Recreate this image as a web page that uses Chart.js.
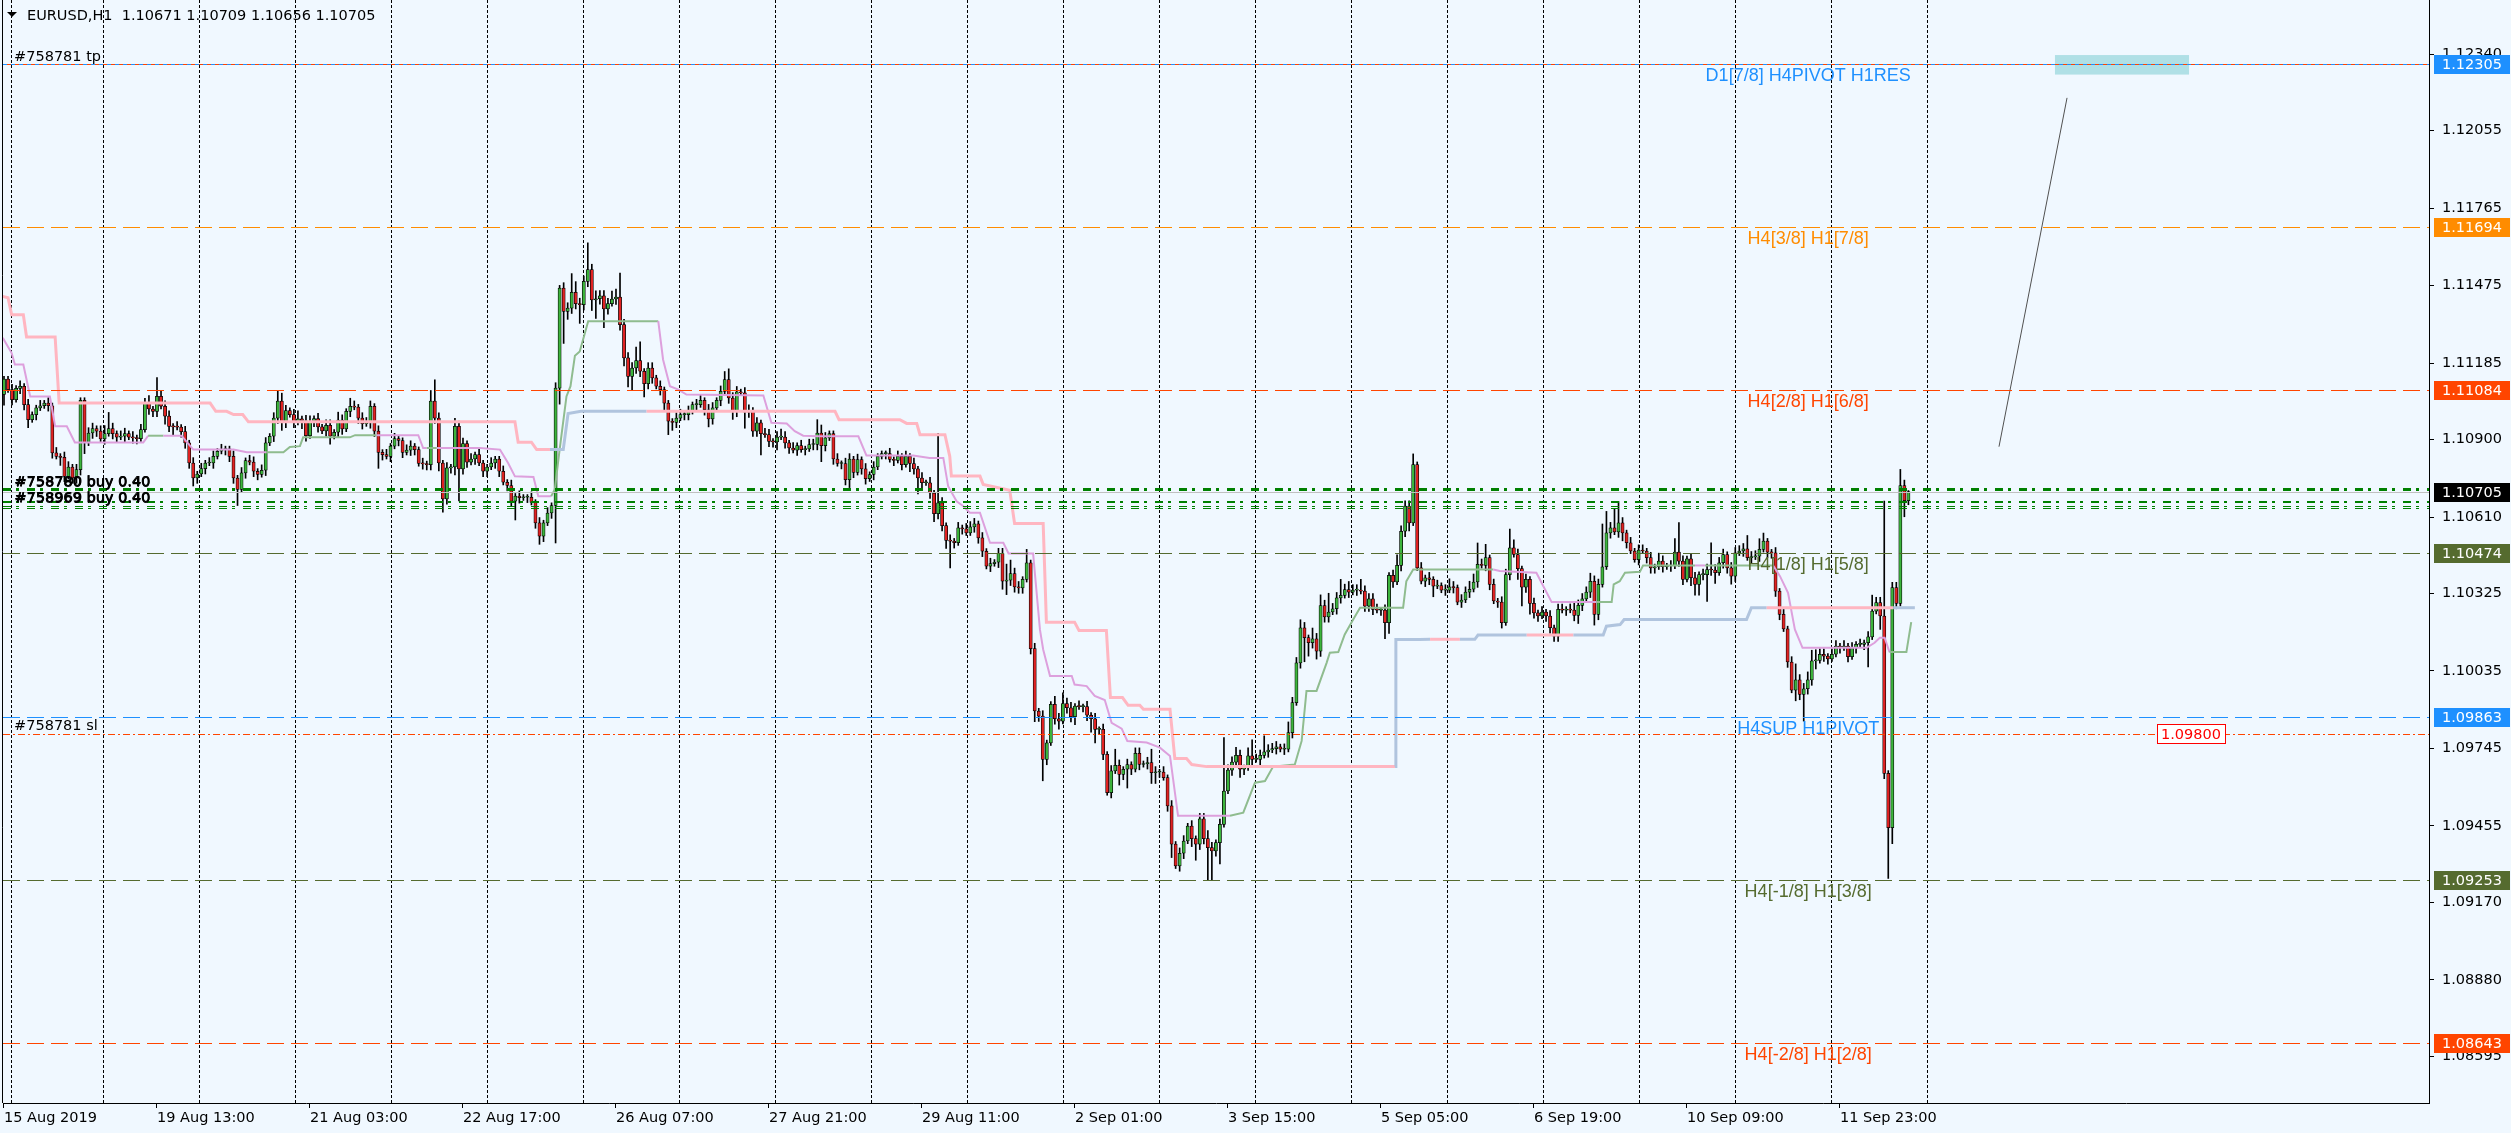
<!DOCTYPE html>
<html>
<head>
<meta charset="utf-8">
<title>EURUSD,H1</title>
<script src="https://cdn.jsdelivr.net/npm/chart.js@4.4.1/dist/chart.umd.min.js"></script>
<style>
  html, body { margin: 0; padding: 0; background: #F0F8FF; overflow: hidden; }
  #wrap { width: 2511px; height: 1133px; }
</style>
</head>
<body>
<div id="wrap"><canvas id="chart" width="2511" height="1133"></canvas></div>
<script>
// all candle values in pips above 1.0000 (1070.5 -> 1.10705), one bar per hour
const firstOpen = 1106.8;
const closes = [
  1112.6,1108.6,1104.9,1109.1,1109.9,1103.0,1097.4,1099.3,1101.8,1102.6,
  1103.6,1102.6,1085.0,1083.7,1083.3,1076.2,1079.7,1075.6,1078.7,1104.6,
  1088.7,1092.4,1094.1,1093.1,1090.2,1092.2,1094.1,1092.2,1090.9,1091.2,
  1092.2,1090.9,1090.6,1090.3,1093.7,1103.4,1101.4,1100.5,1106.1,1102.4,
  1098.7,1094.9,1094.7,1094.6,1092.9,1088.7,1081.2,1075.6,1077.1,1079.1,
  1081.2,1081.2,1083.7,1085.6,1086.2,1086.5,1083.7,1075.6,1071.3,1077.5,
  1082.1,1081.5,1078.1,1076.9,1078.5,1088.7,1091.2,1098.0,1104.3,1096.4,
  1100.8,1099.3,1096.4,1097.7,1097.0,1091.4,1096.8,1097.8,1094.7,1093.2,
  1095.3,1091.2,1092.7,1097.2,1093.9,1100.5,1102.4,1102.1,1098.0,1095.9,
  1096.2,1102.4,1093.1,1085.2,1084.3,1083.7,1087.5,1090.3,1089.6,1085.2,
  1086.0,1087.5,1086.2,1081.0,1080.9,1080.6,1104.3,1098.0,1081.2,1067.8,
  1079.4,1079.7,1094.9,1079.0,1088.5,1081.5,1082.7,1084.3,1081.2,1078.1,
  1079.7,1081.2,1082.7,1078.1,1074.0,1072.8,1066.9,1068.8,1068.2,1068.4,
  1068.4,1066.5,1058.8,1053.8,1058.8,1062.5,1065.3,1109.2,1146.6,1137.9,
  1139.1,1145.0,1140.8,1140.4,1149.1,1153.5,1142.2,1142.6,1143.7,1138.8,
  1140.8,1142.5,1143.2,1132.9,1120.5,1113.6,1116.7,1119.5,1115.5,1110.9,
  1116.7,1113.0,1109.9,1108.6,1103.6,1096.8,1096.4,1098.0,1099.3,1099.3,
  1100.5,1103.0,1103.0,1104.6,1101.1,1097.7,1101.8,1104.6,1108.0,1112.4,
  1105.5,1100.5,1107.8,1107.4,1100.2,1100.9,1093.1,1096.2,1092.2,1091.8,
  1089.3,1089.1,1090.9,1090.9,1088.7,1086.8,1086.0,1087.7,1086.2,1086.5,
  1088.1,1088.1,1092.4,1087.7,1090.6,1092.2,1082.7,1081.0,1081.0,1075.0,
  1082.7,1077.7,1082.5,1079.0,1075.3,1076.9,1079.7,1083.7,1084.7,1084.7,
  1082.5,1082.2,1083.7,1080.6,1083.7,1081.0,1079.0,1075.6,1073.8,1073.8,
  1070.0,1062.3,1066.3,1057.8,1052.3,1052.0,1051.4,1057.0,1056.6,1055.1,
  1057.3,1058.5,1053.2,1048.2,1042.6,1043.6,1044.1,1047.3,1037.0,1037.4,
  1039.9,1034.9,1034.5,1037.7,1043.9,1011.8,988.5,986.6,970.4,976.6,
  991.0,985.6,984.7,991.3,989.7,986.4,990.3,990.1,990.1,986.9,
  985.6,981.6,981.6,972.3,958.0,966.1,968.2,964.8,966.7,968.5,
  966.7,972.7,968.5,968.8,969.2,965.4,965.7,965.7,963.6,953.0,
  938.7,930.6,935.3,939.9,945.5,940.8,938.7,948.2,940.8,937.4,
  936.2,939.3,946.1,958.6,966.4,969.4,971.9,966.7,967.3,971.7,
  970.4,970.4,971.9,973.2,973.9,974.4,975.1,974.2,974.2,980.4,
  991.6,1006.5,1019.6,1015.9,1014.0,1015.5,1010.9,1027.9,1023.7,1025.5,
  1026.7,1030.8,1031.7,1033.9,1032.9,1033.7,1033.7,1033.3,1027.7,1030.4,
  1026.5,1026.2,1026.2,1021.5,1039.2,1036.7,1042.9,1055.7,1065.1,1058.8,
  1080.6,1042.0,1037.0,1038.3,1037.7,1035.2,1035.4,1033.7,1033.7,1034.9,
  1034.6,1029.2,1030.0,1032.9,1034.0,1036.7,1043.3,1042.9,1045.8,1035.8,
  1029.6,1029.2,1021.5,1039.5,1049.5,1047.0,1041.7,1034.8,1037.7,1028.7,
  1025.2,1024.0,1025.5,1024.0,1019.6,1016.5,1026.5,1026.2,1026.5,1026.2,
  1024.2,1028.0,1030.4,1032.9,1037.0,1024.6,1035.8,1042.4,1055.1,1057.0,
  1055.4,1058.8,1055.1,1051.4,1048.3,1045.1,1048.6,1048.3,1045.8,1042.0,
  1042.4,1044.5,1042.4,1042.7,1042.7,1047.9,1044.5,1037.7,1045.4,1038.3,
  1035.8,1039.5,1039.5,1041.4,1041.2,1040.2,1043.9,1047.0,1042.0,1038.9,
  1047.6,1048.3,1049.1,1045.8,1046.1,1046.4,1048.9,1052.0,1047.9,1047.6,
  1033.3,1024.6,1019.2,1006.8,996.3,1000.1,994.7,996.8,1000.1,1007.2,
  1007.4,1009.7,1009.0,1008.0,1009.7,1012.8,1012.1,1012.8,1008.8,1012.1,
  1013.4,1013.4,1014.0,1016.2,1025.8,1029.0,1024.0,965.2,944.9,1034.6,
  1028.7,1072.8,1067.1,1070.5
];
// wick length above the body top / below the body bottom, pips
const wickUp = [
  1,1,2,1,2,1,2,1,1,2, 1,2,1,2,1,2,2,1,2,1, 1,2,2,1,2,3,6,2,1,2, 2,1,2,1,2,2,3,1,7,2,
  2,2,1,2,1,2,1,2,1,2, 1,2,2,1,2,1,1,2,1,2, 1,2,2,1,2,2,1,2,4,3, 2,1,2,3,1,2,2,1,2,1,
  2,2,1,3,2,1,3,2,1,2, 2,2,1,2,1,2,1,2,1,1, 2,2,1,1,2,1,4,8,2,1, 2,1,3,2,2,1,2,1,2,1,
  1,2,1,1,2,1,2,1,2,1, 1,2,1,2,1,2,1,2,1,2, 2,7,4,2,2,10,2,3,2,2, 2,3,3,9,2,2,2,5,7,1,
  2,2,1,2,1,1,1,2,2,1, 2,1,2,2,1,2,2,1,2,3, 4,2,2,1,2,2,1,2,1,2, 2,1,2,3,2,1,2,1,2,1,
  2,2,5,3,2,1,1,2,1,2, 2,1,2,1,2,1,2,1,1,1, 2,1,2,1,2,1,2,1,2,1, 2,1,26,2,1,2,1,2,1,2,
  2,2,1,2,1,2,1,2,2,6, 5,2,2,1,5,1,2,1,2,1, 1,3,2,4,2,2,1,2,1,2, 1,2,1,2,1,2,6,2,1,2,
  1,2,2,1,2,5,2,1,2,1, 2,1,2,2,1,2,1,2,2,3, 2,1,2,20,2,2,3,2,1,3, 6,2,2,6,2,2,2,1,2,4,
  2,2,3,2,1,4,2,4,2,7, 2,2,6,2,3,2,2,4,2,2, 2,2,1,2,1,2,4,2,2,2, 4,1,2,1,2,1,2,1,2,3,
  2,1,2,2,3,3,8,2,5,1, 2,1,2,2,7,3,2,1,2,1, 2,1,2,1,2,1,2,2,1,2, 3,2,2,2,3,2,2,16,8,2,
  7,8,2,1,2,1,2,2,1,2, 1,3,2,1,2,5,11,2,1,2, 2,1,2,2,10,2,2,2,1,2, 2,2,2,5,2,2,4,3,1,1,
  2,1,2,1,2,6,2,2,3,4, 4,2,2,1,2,2,1,2,1,2, 1,2,1,2,6,2,2,43,1,2, 2,6,2,0.4
];
const wickDown = [
  4,1,2,1,2,2,3,1,2,1, 1,2,2,1,3,2,1,2,2,2, 4,1,2,2,1,2,1,2,2,1, 2,1,2,2,1,1,2,2,2,1,
  3,2,3,1,2,2,2,3,2,1, 2,1,2,1,1,2,2,2,6,1, 2,1,2,2,1,2,1,2,2,3, 2,1,2,1,3,2,1,2,2,1,
  2,3,1,2,2,1,2,1,2,2, 1,2,2,6,2,1,2,1,2,2, 1,2,2,1,2,2,2,2,3,5, 2,2,3,12,2,2,1,2,1,2,
  2,1,2,2,1,2,2,7,2,1, 2,1,2,3,2,1,2,14,6,12, 3,2,2,7,2,2,4,7,2,7, 2,1,2,2,3,4,5,2,2,5,
  2,2,1,2,3,5,3,2,1,2, 2,1,2,1,2,3,2,1,2,1, 2,3,2,1,6,2,2,2,8,1, 2,2,3,1,2,2,1,2,1,2,
  1,2,2,6,2,1,2,1,2,2, 3,2,1,2,2,1,2,1,1,2, 1,2,1,2,1,3,2,6,2,1, 2,3,2,2,3,10,2,1,2,1,
  1,2,2,2,1,2,1,2,3,5, 2,2,2,2,1,2,4,2,8,2, 1,2,3,1,2,2,3,1,2,2, 5,5,2,2,1,2,1,4,2,7,
  2,1,2,1,2,4,4,2,1,2, 5,1,2,2,1,3,6,2,2,12, 11,2,8,1,1,2,2,3,2,1, 2,1,2,1,2,1,2,1,2,1,
  2,1,2,9,5,2,3,2,2,2, 1,2,2,1,2,1,2,1,2,2, 2,1,2,6,4,2,1,2,2,3, 1,1,1,2,2,4,1,1,2,1,
  2,1,2,1,2,1,2,1,2,2, 1,2,2,1,2,1,4,7,2,4, 2,2,1,2,2,2,2,1,2,1, 2,3,2,1,2,4,2,1,1,2,
  1,2,3,2,1,1,2,1,2,2, 2,1,2,1,2,1,2,2,1,3, 4,4,2,10,2,4,1,2,2,3, 2,1,2,1,2,1,2,1,2,2,
  2,2,1,2,1,4,2,10,2,2, 3,1,2,2,1,1,2,1,2,1, 2,1,2,9,1,1,5,2,19,6, 2,1,6,1.5
];

// slow multi-timeframe line: vertices (bar, pips); flag 1 = blue segment, 0 = pink
const slowBar = [-0.3,1.0,1.9,4.8,5.6,12.7,13.7,51.2,52.6,55.3, 57,59.3,60.7,126.9,127.7,131,132.3,135.6,138.9,140.1,
  143.3,159.6,206.4,207.4,222.5,224.2,226.7,227.5,233.7,234.9, 235.3,242.4,243.2,249.8,251,258.1,258.9,265.9,267,273.8,
  274.8,277.8,279.2,282.1,283,289.6,290.8,293.7,295,298.7, 345.5,345.7,351.6,354.2,361.6,365.3,366.1,378.2,389.8,397.2,
  398,401.4,402.4,432.8,434,437.8,469.2,474.6];
const slowPips = [1143.5,1143.0,1136.6,1136.6,1128.3,1128.3,1103.6,1103.6,1100.5,1100.5, 1099.3,1099.3,1096.6,1096.6,1089.0,1089.0,1086.2,1086.2,1086.2,1099.7,
  1100.5,1100.5,1100.5,1097.4,1097.4,1096.0,1096.0,1091.8,1091.8,1083.7, 1076.3,1076.3,1073.2,1071.0,1058.6,1058.6,1021.7,1021.7,1018.6,1018.6,
  993.5,993.5,990.6,990.6,989.1,989.1,970.7,970.7,968.5,967.7, 967.7,1015.2,1015.2,1015.3,1015.3,1015.3,1016.9,1016.9,1016.9,1016.9,
  1020.2,1020.8,1022.7,1022.7,1027.1,1027.1,1027.1,1027.1];
const slowUp = [0,0,0,0,0,0,0,0,0,0, 0,0,0,0,0,0,0,1,1,1, 1,0,0,0,0,0,0,0,0,0,
  0,0,0,0,0,0,0,0,0,0, 0,0,0,0,0,0,0,0,0,0, 1,1,1,0,1,1,1,0,1,1, 1,1,1,1,1,0,1,1];

// fast line: vertices (bar, pips); flag 1 = green segment, 0 = plum
const fastBar = [-0.3,1.9,2.7,4.8,6.5,11.4,12.7,15.6,17.6,34.6, 35.8,39.6,44.1,47,57,60.3,65.2,69.4,71,73.5,
  74.3,85.9,87.2,92.5,102.9,104.1,105.0,107.5,118.2,123.2, 125.2,126.9,131.5,132.7,135.9,136.8,138.0,139.7,140.7,141.8,
  143,145.1,162.5,163.7,165.4,167.5,169.5,188.6,190.6,194.4, 196.4,198.5,202.2,212.2,214.2,225.8,229.9,233.3,234.5,236.6,
  238.2,239.9,242.4,244.9,248.2,249.5,255.6,257.3,258.1,259.8, 265.2,265.9,268.9,270.9,273.4,275.1,277.6,279,283.8,287.1,
  289.6,291.6,304.5,307.8,310.7,313.2,315.2,320.6,322.3,323.5, 326,328.5,329.3,331.4,333,335.1,336.8,347.5,348.3,350,
  369.9,371.5,380.6,382.3,384.4,395.5,399.3,399.8,401.3,402.6, 406.3,407.1,420,422.5,433.6,439.4,441.1,443.1,444.8,446.7,
  462.6,464.6,465.9,467.1,468.3,472.5,473.7];
const fastPips = [1128.0,1122.3,1118.0,1118.0,1106.1,1106.1,1094.9,1094.9,1088.9,1088.9, 1091.4,1091.4,1091.4,1086.2,1086.2,1085.2,1085.2,1085.2,1087.2,1087.5,
  1090.8,1090.8,1091.6,1091.6,1091.6,1086.8,1086.8,1086.8,1086.8,1086.2, 1081.2,1076.2,1076.0,1068.8,1068.8,1071.3,1086.2,1106.1,1109.9,1121.3,
  1122.9,1134.2,1134.2,1119.8,1109.9,1108.6,1106.8,1106.4,1096.2,1096.0, 1093.1,1091.4,1091.2,1091.2,1084.0,1084.0,1083.1,1083.1,1072.5,1066.9,
  1065.1,1062.6,1062.6,1051.4,1051.4,1047.4,1047.4,1018.9,1011.5,1001.6, 1001.6,998.4,997.8,994.1,992.6,984.1,981.9,977.3,976.7,974.8,
  971.7,949.3,949.3,950.5,961.7,962.3,967.7,968.5,977.3,996.0, 996.0,1006.5,1010.3,1010.5,1017.1,1022.7,1027.1,1027.1,1037.0,1041.4,
  1041.4,1040.8,1040.2,1035.2,1029.2,1029.2,1029.2,1035.8,1037.0,1040.2, 1040.5,1042.9,1042.9,1042.9,1042.9,1042.9,1038.9,1032.7,1019.0,1012.1,
  1012.1,1014.0,1015.9,1015.9,1010.5,1010.5,1021.7];
const fastUp = [0,0,0,0,0,0,0,0,0,0, 1,0,0,0,0,0,1,1,1,1, 1,1,1,0,0,0,1,0,0,0,
  0,0,0,0,1,1,1,1,1,1, 1,1,0,0,0,0,0,0,0,0, 0,0,0,0,0,0,0,0,0,0,
  0,0,0,0,0,0,0,0,0,0, 0,0,0,0,0,0,0,0,0,0, 0,0,1,1,1,1,1,1,1,1,
  1,1,1,1,1,1,1,1,1,1, 0,0,0,0,0,1,1,1,1,1, 1,1,0,1,1,0,0,0,0,0,
  0,0,0,0,1,1,1];

// price levels drawn on the chart
const levelPrices = [1.12305, 1.11694, 1.11084, 1.10474, 1.09863, 1.09253, 1.08643];
const levelNames = ['D1[7/8] H4PIVOT H1RES', 'H4[3/8] H1[7/8]', 'H4[2/8] H1[6/8]', 'H4[1/8] H1[5/8]',
  'H4SUP H1PIVOT', 'H4[-1/8] H1[3/8]', 'H4[-2/8] H1[2/8]'];
const bidPrice = 1.10705;
const tpPrice = 1.12305;
const slPrice = 1.09800;
const buyPrices = [1.10715, 1.10665, 1.10653, 1.10645];
const tpLabel = '#758781 tp';
const slLabel = '#758781 sl';
const buyLabels = ['#758780 buy 0.40', '#758969 buy 0.40'];
const headerText = 'EURUSD,H1  1.10671 1.10709 1.10656 1.10705';

const yTicks = [1.12340, 1.12055, 1.11765, 1.11475, 1.11185, 1.10900, 1.10610,
  1.10325, 1.10035, 1.09745, 1.09455, 1.09170, 1.08880, 1.08595];
const xLabelBars = [0, 38, 76, 114, 152, 190, 228, 266, 304, 342, 380, 418, 456];
const xLabels = ['15 Aug 2019', '19 Aug 13:00', '21 Aug 03:00', '22 Aug 17:00', '26 Aug 07:00',
  '27 Aug 21:00', '29 Aug 11:00', '2 Sep 01:00', '3 Sep 15:00', '5 Sep 05:00', '6 Sep 19:00',
  '10 Sep 09:00', '11 Sep 23:00'];

const trendBars = [495.5, 512.4];
const trendPrices = [1.10873, 1.12177];
const zoneBars = [509.4, 542.7];
const zonePrices = [1.12337, 1.12264];
const slBoxBar = 543.2;

// ---- styles ----
const X_MIN = -0.248, X_MAX = 602.3;
const Y_MIN = 1.084195, Y_MAX = 1.125428;
const GRID_START = 0.82, GRID_STEP = 23.845, GRID_COUNT = 20;
const BULL = '#3CB43C', BEAR = '#E02222';
const PINK = '#FFB6C1', STEEL = '#B0C4DE', PLUM = '#DDA0DD', SEA = '#8FBC8F';
const BLUE = '#1E90FF', ORANGE = '#FF8C00', RED = '#FF4500', OLIVE = '#556B2F';
const levelColors = [BLUE, ORANGE, RED, OLIVE, BLUE, OLIVE, RED];
const AXIS_FONT = {family: 'DejaVu Sans', size: 14.5};
const DASH = [17, 7], DASH_DOT = [7, 3, 2, 3], BUY_DASH = [8, 5, 3, 8];

const P = v => 1 + v / 10000;

const candles = closes.map((c, i) => {
  const o = i === 0 ? firstOpen : closes[i - 1];
  return {
    o: P(o), c: P(c),
    h: P(Math.max(o, c) + wickUp[i]),
    l: P(Math.min(o, c) - wickDown[i])
  };
});

// horizontal lines, drawn crisp by the overlay plugin through the y scale
const hlines = [{p: bidPrice, color: '#C0C0C0', w: 1, dash: []}];
levelPrices.forEach((p, i) => {
  hlines.push({p, color: levelColors[i], w: 1, dash: i === 0 ? [4, 4] : DASH});
});
hlines.push({p: tpPrice, color: RED, w: 1, dash: [4, 4], off: 4});
hlines.push({p: slPrice, color: RED, w: 1, dash: DASH_DOT});
buyPrices.forEach((p, i) => {
  hlines.push({p, color: '#008000', w: i === 0 ? 3 : (i === 1 ? 2 : 1), dash: BUY_DASH});
});

const datasets = [];

// trend line
datasets.push({
  type: 'line',
  data: trendBars.map((b, i) => ({x: b, y: trendPrices[i]})),
  borderColor: '#505050', borderWidth: 1, pointRadius: 0, order: 1
});

// indicator lines
datasets.push({
  type: 'line',
  data: slowBar.map((b, i) => ({x: b, y: P(slowPips[i])})),
  borderWidth: 3, borderColor: PINK, pointRadius: 0, order: 2,
  segment: {borderColor: ctx => slowUp[ctx.p0DataIndex] ? STEEL : PINK}
});
datasets.push({
  type: 'line',
  data: fastBar.map((b, i) => ({x: b, y: P(fastPips[i])})),
  borderWidth: 2, borderColor: PLUM, pointRadius: 0, order: 2,
  segment: {borderColor: ctx => fastUp[ctx.p0DataIndex] ? SEA : PLUM}
});

// candle bodies and wicks
datasets.push({
  type: 'bar',
  data: candles.map((k, i) => ({x: i, y: [k.o, k.c]})),
  backgroundColor: candles.map(k => k.c >= k.o ? BULL : BEAR),
  borderColor: '#000', borderWidth: 0.75, borderSkipped: false,
  barThickness: 3.2, grouped: false, minBarLength: 1, order: 3
});
datasets.push({
  type: 'bar',
  data: candles.map((k, i) => ({x: i, y: [k.l, k.h]})),
  backgroundColor: '#000', borderWidth: 0,
  barThickness: 1, grouped: false, minBarLength: 1, order: 4
});

const overlay = {
  id: 'overlay',
  beforeDatasetsDraw(chart) {
    const {ctx, scales: {x, y}} = chart;
    const x0 = x.getPixelForValue(zoneBars[0]), x1 = x.getPixelForValue(zoneBars[1]);
    const y0 = y.getPixelForValue(zonePrices[0]), y1 = y.getPixelForValue(zonePrices[1]);
    ctx.save();
    ctx.fillStyle = '#B0E0E6';
    ctx.fillRect(x0, y0, x1 - x0, y1 - y0);
    ctx.restore();
  },
  afterDatasetsDraw(chart) {
    const {ctx, chartArea, scales: {x, y}} = chart;
    ctx.save();
    ctx.beginPath();
    ctx.rect(chartArea.left, chartArea.top, chartArea.right - chartArea.left, chartArea.bottom - chartArea.top);
    ctx.clip();
    hlines.forEach(h => {
      const py = Math.round(y.getPixelForValue(h.p)) + (h.w % 2 ? 0.5 : 0);
      ctx.strokeStyle = h.color;
      ctx.lineWidth = h.w;
      ctx.setLineDash(h.dash);
      ctx.lineDashOffset = h.off || 0;
      ctx.beginPath();
      ctx.moveTo(chartArea.left, py);
      ctx.lineTo(chartArea.right, py);
      ctx.stroke();
    });
    ctx.setLineDash([]);
    // level names
    ctx.font = '18px "Liberation Sans"';
    ctx.textAlign = 'center';
    ctx.textBaseline = 'alphabetic';
    levelPrices.forEach((p, i) => {
      ctx.fillStyle = levelColors[i];
      ctx.fillText(levelNames[i], x.getPixelForValue(448.1), y.getPixelForValue(p) + 17);
    });
    // order labels
    ctx.font = '14.5px "DejaVu Sans"';
    ctx.textAlign = 'left';
    ctx.fillStyle = '#000';
    const lx = x.getPixelForValue(2.5);
    ctx.fillText(tpLabel, lx, y.getPixelForValue(tpPrice) - 3);
    ctx.fillText(slLabel, lx, y.getPixelForValue(slPrice) - 4);
    [[buyLabels[0], buyPrices[0], -3], [buyLabels[1], buyPrices[1], 0]].forEach(([t, p, dy]) => {
      ctx.fillText(t, lx, y.getPixelForValue(p) + dy);
      ctx.fillText(t, lx + 0.8, y.getPixelForValue(p) + dy);
      ctx.fillText(t, lx + 0.4, y.getPixelForValue(p) + dy + 0.6);
    });
    ctx.restore();

    ctx.save();
    // header
    ctx.fillStyle = '#000';
    ctx.beginPath();
    ctx.moveTo(chartArea.left + 4, 12);
    ctx.lineTo(chartArea.left + 14, 12);
    ctx.lineTo(chartArea.left + 9, 17);
    ctx.closePath();
    ctx.fill();
    ctx.font = '14.5px "DejaVu Sans"';
    ctx.textAlign = 'left';
    ctx.textBaseline = 'alphabetic';
    ctx.fillText(headerText, chartArea.left + 24, 20);
    // left border
    ctx.strokeStyle = '#000';
    ctx.lineWidth = 1;
    ctx.beginPath();
    ctx.moveTo(chartArea.left - 0.5, chartArea.top);
    ctx.lineTo(chartArea.left - 0.5, chartArea.bottom);
    ctx.stroke();
    // sl price tag
    const sx = Math.round(x.getPixelForValue(slBoxBar)), sy = Math.round(y.getPixelForValue(slPrice));
    ctx.fillStyle = '#FFFFFF';
    ctx.fillRect(sx - 34, sy - 10, 69, 20);
    ctx.strokeStyle = '#FF0000';
    ctx.strokeRect(sx - 34 + 0.5, sy - 10 + 0.5, 68, 19);
    ctx.fillStyle = '#FF0000';
    ctx.textAlign = 'center';
    ctx.textBaseline = 'middle';
    ctx.fillText(slPrice.toFixed(5), sx, sy + 1);
    ctx.restore();
  },
  afterDraw(chart) {
    const {ctx, chartArea, scales: {y}} = chart;
    const boxes = levelPrices.map((p, i) => [p, levelColors[i]]).concat([[bidPrice, '#000']]);
    ctx.save();
    ctx.font = '14.5px "DejaVu Sans"';
    ctx.textBaseline = 'middle';
    ctx.textAlign = 'left';
    boxes.forEach(([p, c]) => {
      const py = Math.round(y.getPixelForValue(p));
      ctx.fillStyle = c;
      ctx.fillRect(chartArea.right + 5, py - 9, 76, 19);
      ctx.fillStyle = '#FFFFFF';
      ctx.fillText(p.toFixed(5), chartArea.right + 13, py + 1);
    });
    ctx.restore();
  }
};

new Chart(document.getElementById('chart'), {
  type: 'bar',
  data: {datasets},
  options: {
    responsive: false,
    animation: false,
    devicePixelRatio: 1,
    events: [],
    layout: {padding: {left: 3, top: 0, right: 0, bottom: 0}},
    plugins: {legend: {display: false}, tooltip: {enabled: false}},
    scales: {
      x: {
        type: 'linear', min: X_MIN, max: X_MAX, bounds: 'data', offset: false,
        position: 'bottom',
        afterBuildTicks: s => {
          const t = [{value: 1.9}];
          for (let k = 1; k <= GRID_COUNT; k++) t.push({value: GRID_START + GRID_STEP * k});
          s.ticks = t;
        },
        afterFit: s => { s.height = 0; s.paddingLeft = 0; s.paddingRight = 0; },
        grid: {offset: false, drawTicks: false, color: '#000', lineWidth: 1},
        border: {display: false, dash: [3, 2]},
        ticks: {display: false}
      },
      xl: {
        type: 'linear', min: X_MIN, max: X_MAX, bounds: 'data', offset: false,
        position: 'bottom',
        afterBuildTicks: s => { s.ticks = xLabelBars.map(v => ({value: v})); },
        afterFit: s => { s.height = 30; s.paddingLeft = 0; s.paddingRight = 0; },
        grid: {offset: false, drawOnChartArea: false, drawTicks: true, tickLength: 5, color: '#000'},
        border: {display: true, color: '#000'},
        ticks: {
          autoSkip: false, maxRotation: 0, minRotation: 0, align: 'start', padding: 2,
          color: '#000', font: AXIS_FONT,
          callback: (v, i) => xLabels[i]
        }
      },
      y: {
        type: 'linear', position: 'right', min: Y_MIN, max: Y_MAX, bounds: 'data',
        afterBuildTicks: s => { s.ticks = yTicks.map(v => ({value: v})); },
        afterFit: s => { s.width = 82; s.paddingTop = 0; s.paddingBottom = 0; },
        grid: {drawOnChartArea: false, drawTicks: true, tickLength: 5, color: '#000'},
        border: {display: true, color: '#000'},
        ticks: {padding: 8, color: '#000', font: AXIS_FONT, callback: v => v.toFixed(5)}
      }
    }
  },
  plugins: [overlay]
});
</script>
</body>
</html>
